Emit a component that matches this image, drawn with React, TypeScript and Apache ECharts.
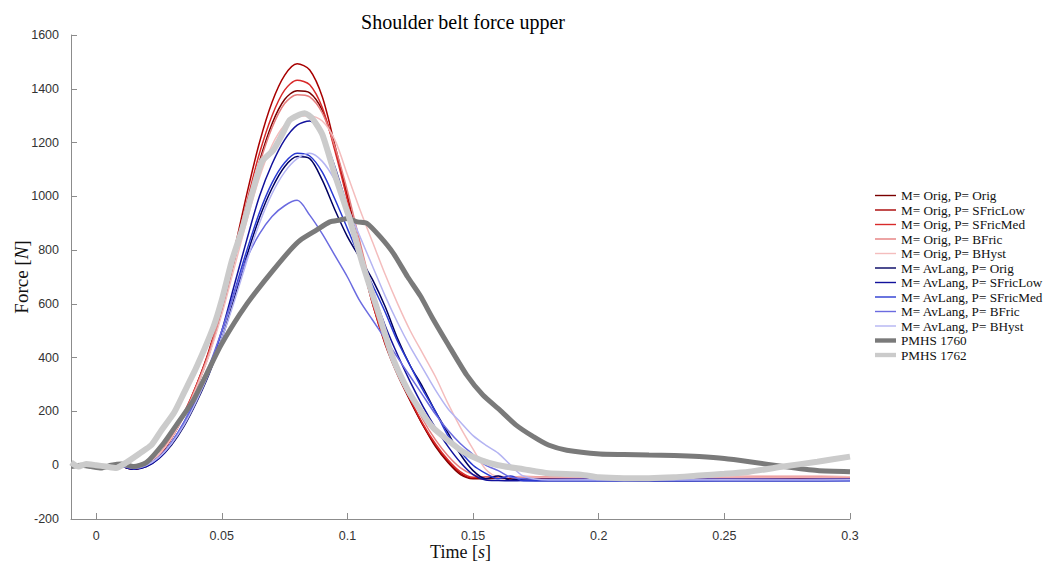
import React, { useEffect, useRef } from "react";
import * as echarts from "echarts";

// ---- Data ----
const modelTime = [-0.008, 0, 0.008, 0.015, 0.02, 0.025, 0.03, 0.035, 0.04, 0.045, 0.05, 0.055, 0.06, 0.065, 0.07, 0.075, 0.08, 0.085, 0.09, 0.095, 0.1, 0.105, 0.11, 0.115, 0.12, 0.125, 0.13, 0.135, 0.14, 0.145, 0.15, 0.155, 0.16, 0.165, 0.17, 0.18, 0.2, 0.22, 0.25, 0.28, 0.3];

const origOrig = [0, -5, 0, -15, 0, 35, 100, 185, 290, 415, 575, 760, 955, 1130, 1270, 1360, 1393, 1385, 1320, 1180, 1000, 800, 610, 460, 340, 240, 150, 70, 10, -35, -50, -50, -48, -50, -49, -50, -48, -50, -49, -48, -50];
const origSFricLow = [0, -5, 0, -15, 0, 35, 100, 190, 300, 430, 600, 800, 1010, 1200, 1350, 1450, 1493, 1470, 1370, 1190, 1000, 790, 600, 450, 335, 240, 150, 75, 15, -30, -48, -45, -45, -44, -45, -45, -46, -45, -45, -44, -45];
const origSFricMed = [0, -5, 0, -12, 2, 38, 105, 195, 300, 425, 590, 780, 980, 1160, 1300, 1395, 1432, 1415, 1330, 1170, 985, 785, 600, 455, 340, 245, 155, 80, 20, -25, -45, -44, -42, -43, -42, -43, -42, -43, -42, -42, -43];
const origBFric = [0, -5, 0, -10, 5, 40, 105, 190, 295, 420, 580, 760, 950, 1120, 1255, 1345, 1378, 1370, 1310, 1185, 1020, 830, 645, 490, 370, 265, 170, 95, 35, -10, -35, -45, -44, -45, -44, -45, -44, -46, -45, -44, -45];
const origBHyst = [0, -5, 0, -10, 5, 40, 100, 185, 290, 410, 560, 735, 910, 1070, 1190, 1265, 1298, 1300, 1280, 1210, 1080, 950, 830, 710, 600, 500, 415, 330, 230, 140, 60, -15, -42, -44, -43, -44, -43, -44, -43, -44, -43];
const avOrig = [0, -5, 0, -15, -5, 25, 75, 145, 235, 340, 470, 620, 780, 920, 1030, 1110, 1148, 1140, 1060, 950, 850, 770, 690, 590, 470, 370, 290, 200, 120, 40, -20, -50, -40, -55, -52, -56, -55, -57, -56, -55, -56];
const avSFricLow = [0, -5, 0, -15, -5, 25, 80, 155, 250, 360, 500, 670, 840, 1000, 1120, 1210, 1265, 1280, 1230, 1110, 960, 800, 650, 520, 410, 310, 220, 140, 70, 10, -35, -55, -57, -58, -57, -58, -57, -58, -57, -58, -57];
const avSFricMed = [0, -5, 0, -12, 0, 30, 85, 160, 255, 365, 495, 645, 800, 940, 1050, 1125, 1160, 1150, 1090, 990, 880, 770, 670, 570, 460, 370, 280, 200, 110, 50, 0, -30, -50, -40, -58, -57, -58, -57, -58, -57, -58];
const avBFric = [0, -5, 0, -12, 0, 30, 85, 160, 260, 370, 500, 640, 770, 860, 925, 965, 985, 930, 860, 780, 700, 610, 540, 470, 400, 330, 260, 190, 130, 80, 40, 0, -20, -45, -50, -52, -51, -52, -51, -52, -51];
const avBHyst = [0, -5, 0, -10, 0, 30, 80, 150, 240, 345, 470, 610, 760, 900, 1010, 1090, 1140, 1160, 1130, 1060, 960, 850, 740, 630, 530, 440, 360, 280, 210, 160, 110, 75, 45, 0, -40, -55, -54, -55, -54, -55, -54];

const pmhs1760Time = [-0.01, -0.006, -0.002, 0.002, 0.006, 0.01, 0.015, 0.02, 0.0268, 0.032, 0.0387, 0.044, 0.0493, 0.055, 0.06, 0.064, 0.07, 0.0772, 0.0812, 0.0878, 0.093, 0.097, 0.1, 0.104, 0.1077, 0.113, 0.1183, 0.124, 0.129, 0.134, 0.14, 0.1475, 0.154, 0.1607, 0.167, 0.174, 0.18, 0.1873, 0.2005, 0.21, 0.22, 0.23, 0.24, 0.25, 0.26, 0.2735, 0.287, 0.3];
const pmhs1760 = [-5, 0, -5, -10, 0, 5, -5, 10, 81, 150, 242, 340, 440, 530, 600, 650, 720, 800, 837, 875, 905, 912, 918, 905, 900, 850, 788, 700, 630, 545, 450, 335, 260, 205, 150, 106, 75, 56, 42, 40, 38, 36, 32, 25, 13, -5, -20, -24];

const pmhs1762Time = [-0.01, -0.007, -0.004, 0, 0.004, 0.008, 0.012, 0.0175, 0.022, 0.026, 0.031, 0.035, 0.04, 0.0467, 0.05, 0.054, 0.058, 0.062, 0.066, 0.0705, 0.074, 0.077, 0.08, 0.083, 0.086, 0.09, 0.095, 0.101, 0.106, 0.112, 0.118, 0.124, 0.129, 0.134, 0.14, 0.146, 0.153, 0.16, 0.17, 0.18, 0.193, 0.2, 0.21, 0.22, 0.23, 0.24, 0.25, 0.26, 0.2735, 0.287, 0.3];
const pmhs1762 = [10, -5, 5, 0, -5, -10, 10, 45, 75, 130, 195, 270, 366, 515, 614, 760, 875, 1010, 1130, 1172, 1230, 1283, 1300, 1309, 1290, 1230, 1080, 912, 750, 577, 400, 280, 205, 140, 93, 50, 19, 0, -15, -30, -35, -45, -48, -48, -45, -38, -32, -24, -5, 13, 32];

const xTicks = [0, 0.05, 0.1, 0.15, 0.2, 0.25, 0.3];

const seriesNames = [
  "M= Orig, P= Orig",
  "M= Orig, P= SFricLow",
  "M= Orig, P= SFricMed",
  "M= Orig, P= BFric",
  "M= Orig, P= BHyst",
  "M= AvLang, P= Orig",
  "M= AvLang, P= SFricLow",
  "M= AvLang, P= SFricMed",
  "M= AvLang, P= BFric",
  "M= AvLang, P= BHyst",
  "PMHS 1760",
  "PMHS 1762",
];
const modelValues = [origOrig, origSFricLow, origSFricMed, origBFric, origBHyst, avOrig, avSFricLow, avSFricMed, avBFric, avBHyst];
const colors = ["#7a0000", "#a80000", "#d82a2a", "#e57d7d", "#f4bdbd", "#000060", "#12129c", "#2a3ad2", "#6b6be0", "#b4b4f2", "#7a7a7a", "#cbcbcb"];
const lineWidths = [1.5, 1.5, 1.5, 1.5, 1.5, 1.5, 1.5, 1.5, 1.5, 1.5, 5, 6];

const SERIF = "'Liberation Serif', 'DejaVu Serif', serif";
const SANS = "'Liberation Sans', Arial, sans-serif";

export default function App() {
  const ref = useRef<HTMLDivElement>(null);
  useEffect(() => {
    if (!ref.current) return;
    const chart = echarts.init(ref.current, undefined, { renderer: "svg" });
    const series: any[] = [];
    modelValues.forEach((vals, i) => {
      series.push({
        name: seriesNames[i],
        type: "line",
        data: modelTime.map((t, k) => [t, vals[k]]),
        showSymbol: false,
        symbol: "none",
        smooth: 0.3,
        lineStyle: { color: colors[i], width: lineWidths[i] },
        itemStyle: { color: colors[i] },
      });
    });
    series.push({
      name: seriesNames[10],
      type: "line",
      data: pmhs1760Time.map((t, k) => [t, pmhs1760[k]]),
      showSymbol: false,
      symbol: "none",
      smooth: 0.2,
      lineStyle: { color: colors[10], width: lineWidths[10] },
      itemStyle: { color: colors[10] },
    });
    series.push({
      name: seriesNames[11],
      type: "line",
      data: pmhs1762Time.map((t, k) => [t, pmhs1762[k]]),
      showSymbol: false,
      symbol: "none",
      smooth: 0.2,
      lineStyle: { color: colors[11], width: lineWidths[11] },
      itemStyle: { color: colors[11] },
    });

    const legendData = seriesNames.map((name, i) => ({
      name,
      icon: lineWidths[i] > 3 ? "path://M0,0H24V5H0Z" : "path://M0,0H24V1.6H0Z",
    }));

    chart.setOption({
      animation: false,
      backgroundColor: "#ffffff",
      title: {
        text: "Shoulder belt force upper",
        left: 458,
        top: 7,
        textAlign: "center",
        textStyle: { fontFamily: SERIF, fontSize: 20, fontWeight: "normal", color: "#000" },
      },
      legend: {
        orient: "vertical",
        left: 875,
        top: 189,
        padding: 0,
        itemWidth: 21,
        itemHeight: 10,
        itemGap: 1.5,
        symbolKeepAspect: true,
        data: legendData,
        textStyle: { fontFamily: SERIF, fontSize: 13.2, color: "#111" },
      },
      grid: { left: 71, right: 198, top: 35, bottom: 48, containLabel: false, outerBoundsMode: "none" },
      xAxis: {
        type: "value",
        min: -0.01,
        max: 0.3,
        name: "Time [{i|s}]",
        nameLocation: "middle",
        nameGap: 24,
        nameMoveOverlap: false,
        nameTextStyle: {
          fontFamily: SERIF,
          fontSize: 18,
          color: "#111",
          rich: { i: { fontFamily: SERIF, fontStyle: "italic", fontSize: 18, color: "#111" } },
        },
        axisLine: { show: true, onZero: false, lineStyle: { color: "#8c8c8c", width: 1 } },
        axisTick: { show: true, inside: true, length: 6, customValues: xTicks, lineStyle: { color: "#8c8c8c" } },
        axisLabel: {
          customValues: xTicks,
          margin: 10,
          fontFamily: SANS,
          fontSize: 12.5,
          color: "#333",
          formatter: (v: number) => (v === 0 ? "0" : String(Math.round(v * 100) / 100)),
        },
        splitLine: { show: false },
      },
      yAxis: {
        type: "value",
        min: -200,
        max: 1600,
        interval: 200,
        name: "Force [{i|N}]",
        nameLocation: "middle",
        nameGap: 40,
        nameMoveOverlap: false,
        nameTextStyle: {
          fontFamily: SERIF,
          fontSize: 19,
          color: "#111",
          rich: { i: { fontFamily: SERIF, fontStyle: "italic", fontSize: 19, color: "#111" } },
        },
        axisLine: { show: true, onZero: false, lineStyle: { color: "#8c8c8c", width: 1 } },
        axisTick: { show: true, inside: true, length: 6, lineStyle: { color: "#8c8c8c" } },
        axisLabel: {
          margin: 12,
          fontFamily: SANS,
          fontSize: 12.5,
          color: "#333",
          formatter: (v: number) => String(v),
        },
        splitLine: { show: false },
      },
      series,
    });
    return () => chart.dispose();
  }, []);
  return <div ref={ref} style={{ position: "fixed", left: 0, top: 0, width: 1048, height: 567 }} />;
}
